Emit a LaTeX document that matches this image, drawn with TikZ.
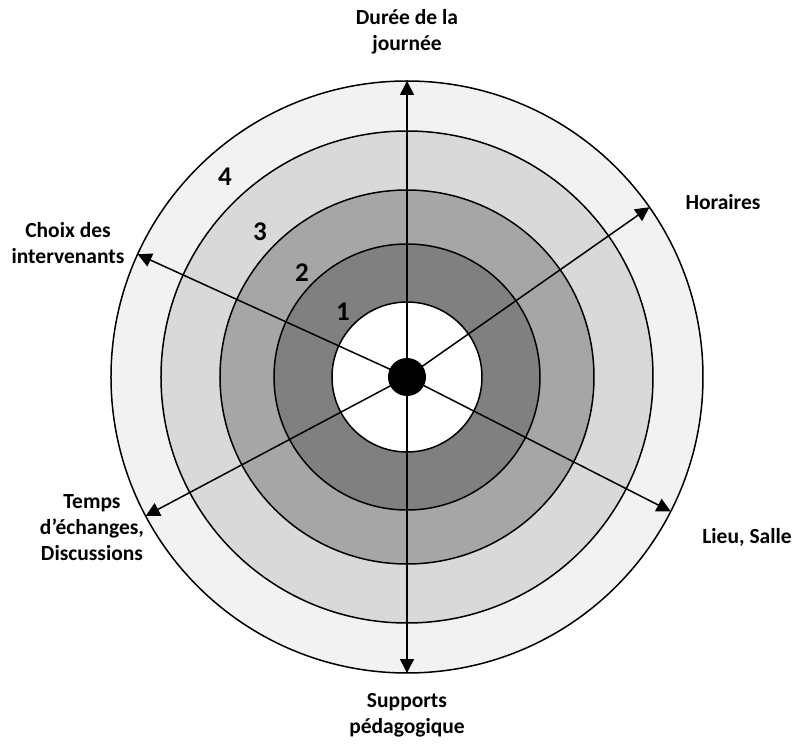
\documentclass[tikz,border=0pt]{standalone}
\usepackage{fontspec}
\setmainfont{Carlito}
\usepackage{tikz}
\usetikzlibrary{arrows.meta,calc}
\definecolor{ringA}{HTML}{F2F2F2}
\definecolor{ringB}{HTML}{D9D9D9}
\definecolor{ringC}{HTML}{A6A6A6}
\definecolor{ringD}{HTML}{808080}
\tikzset{
  target/.style={
    line cap=round, line join=round,
    line width=1.5pt,
  },
  ringDisc/.style={draw=black, line width=1.5pt},
  axisArrow/.style={-{Triangle[length=14pt, width=14pt]}, black, line width=1.5pt},
  axisLabel/.style={
    font=\bfseries\fontsize{21.5}{26}\selectfont, align=center,
    inner sep=0pt, text=black,
  },
  ringNum/.style={font=\bfseries\fontsize{27}{32}\selectfont, inner sep=0pt},
  hubDot/.style={circle, fill=black, minimum size=38pt, inner sep=0pt},
}
\begin{document}
\begin{tikzpicture}[target, x=1pt, y=1pt]

\useasboundingbox (-407,-367) rectangle (389,377);

% ============================================================
% Concentric rings, outermost first.
% ============================================================
\def\rOut{296}
\def\rB{246}
\def\rC{187}
\def\rD{133}
\def\rIn{75}

\coordinate (hub) at (0,0);

\draw[ringDisc, fill=ringA] (hub) circle (\rOut);
\draw[ringDisc, fill=ringB] (hub) circle (\rB);
\draw[ringDisc, fill=ringC] (hub) circle (\rC);
\draw[ringDisc, fill=ringD] (hub) circle (\rD);
\draw[ringDisc, fill=white] (hub) circle (\rIn);

% ring numbers
\node[ringNum] (num4) at (-182, 200) {4};
\node[ringNum] (num3) at (-147, 145) {3};
\node[ringNum] (num2) at (-105, 104) {2};
\node[ringNum] (num1) at (-64, 65)   {1};

% ============================================================
% Axes: tips sit on the outer circle.
% ============================================================
\coordinate (tipDuree)    at (90:\rOut);
\coordinate (tipHoraires) at (35:\rOut);
\coordinate (tipLieu)     at (-27:\rOut);
\coordinate (tipSupports) at (-90:\rOut);
\coordinate (tipTemps)    at (208:\rOut);
\coordinate (tipChoix)    at (155.5:\rOut);

\foreach \tip in {tipDuree, tipHoraires, tipLieu, tipSupports, tipTemps, tipChoix}
  \draw[axisArrow] (hub) -- (\tip);

\node[hubDot] (hubDot) at (hub) {};

% ============================================================
% Axis labels
% ============================================================
\node[axisLabel] (lblDuree)    at (0, 345)     {Durée de la\\journée};
\node[axisLabel] (lblHoraires) at (316, 175)   {Horaires};
\node[axisLabel] (lblLieu)     at (340, -160)  {Lieu, Salle};
\node[axisLabel] (lblSupports) at (0, -338)    {Supports\\pédagogique};
\node[axisLabel] (lblTemps)    at (-315, -151) {Temps\\d’échanges,\\Discussions};
\node[axisLabel] (lblChoix)    at (-339, 134)  {Choix des\\intervenants};

\end{tikzpicture}
\end{document}
